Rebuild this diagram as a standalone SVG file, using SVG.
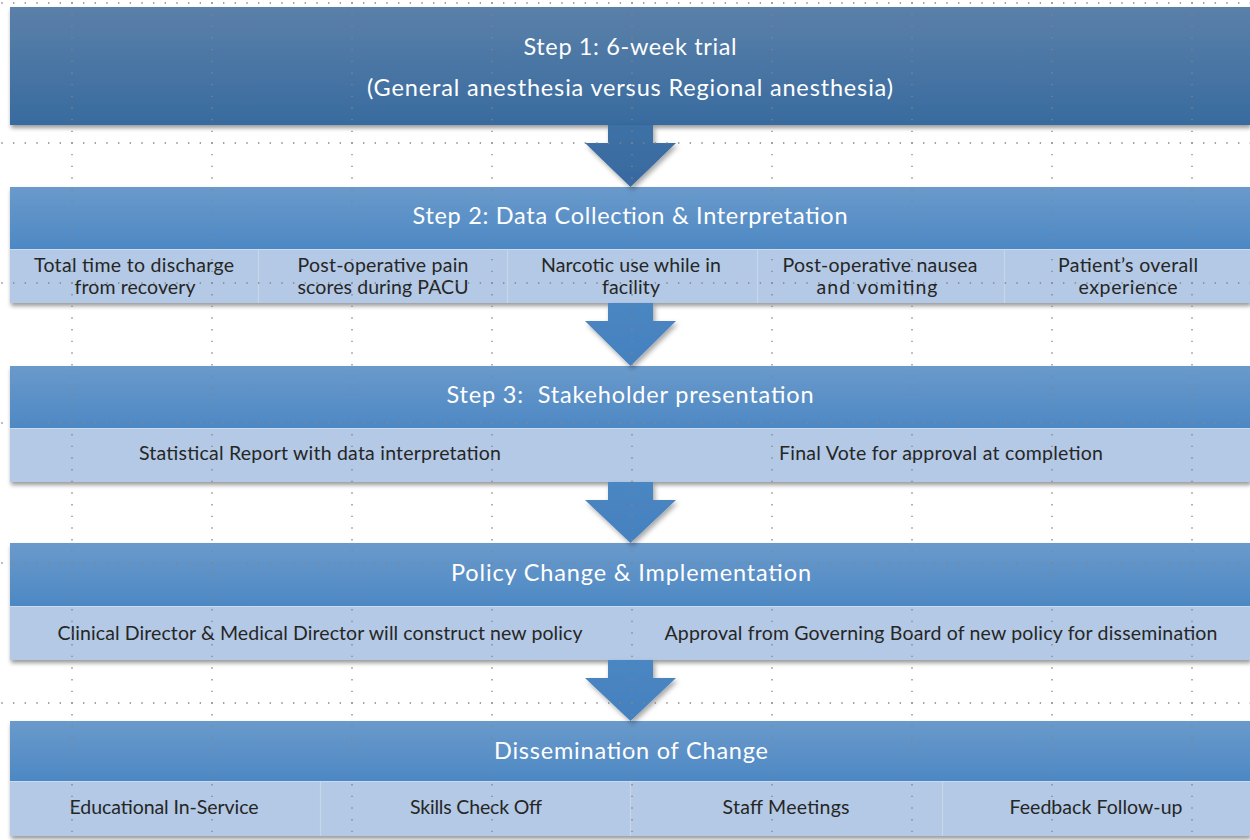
<svg xmlns="http://www.w3.org/2000/svg" width="1250" height="840" viewBox="0 0 1250 840">
  <style>
    .hd { font-family: Lato, "Open Sans", "Liberation Sans", sans-serif; font-size: 23.5px; fill: #ffffff; text-anchor: middle; }
    .sb { font-family: Lato, "Open Sans", "Liberation Sans", sans-serif; font-size: 19.5px; fill: #262626; text-anchor: middle; }
    .row { fill: #b3c9e5; }
    .sep { stroke: #c6d7ec; stroke-width: 1.2; }
    .edge { stroke: #c9dbef; stroke-width: 1; }
    .grid line { stroke: #858585; stroke-width: 1.3; stroke-dasharray: 1.4 10.267; }
  </style>
  <defs>
    <linearGradient id="gDark" x1="0" y1="0" x2="0" y2="1">
      <stop offset="0" stop-color="#5b80a9"/>
      <stop offset="1" stop-color="#386b9f"/>
    </linearGradient>
    <linearGradient id="gMid" x1="0" y1="0" x2="0" y2="1">
      <stop offset="0" stop-color="#6a9acb"/>
      <stop offset="1" stop-color="#4d88c4"/>
    </linearGradient>
    <linearGradient id="gArrowDark" x1="0" y1="0" x2="0" y2="1">
      <stop offset="0" stop-color="#3e70a5"/>
      <stop offset="1" stop-color="#386aa0"/>
    </linearGradient>
    <linearGradient id="gArrow" x1="0" y1="0" x2="0" y2="1">
      <stop offset="0" stop-color="#4a86c2"/>
      <stop offset="1" stop-color="#4581bf"/>
    </linearGradient>
    <filter id="shadow" x="-5%" y="-20%" width="110%" height="150%">
      <feDropShadow dx="1" dy="3" stdDeviation="2" flood-color="#000" flood-opacity="0.4"/>
    </filter>
    <filter id="ashadow" x="-30%" y="-30%" width="160%" height="160%">
      <feDropShadow dx="2" dy="3" stdDeviation="2.5" flood-color="#000" flood-opacity="0.35"/>
    </filter>
  </defs>

  <rect width="1250" height="840" fill="#ffffff"/>

  <!-- Step 1 -->
  <g id="step1">
    <rect x="10" y="7" width="1240" height="118" fill="url(#gDark)" filter="url(#shadow)"/>
    <text class="hd" x="630" y="55" textLength="213">Step 1: 6-week trial</text>
    <text class="hd" x="630" y="96" textLength="526">(General anesthesia versus Regional anesthesia)</text>
  </g>

  <!-- Step 2 -->
  <g id="step2">
    <g filter="url(#shadow)">
      <rect x="10" y="187" width="1240" height="62" fill="url(#gMid)"/>
      <rect class="row" x="10" y="249" width="1240" height="54"/>
    </g>
    <line class="edge" x1="10" y1="249.5" x2="1250" y2="249.5"/>
    <line class="sep" x1="258.5" y1="250" x2="258.5" y2="303"/>
    <line class="sep" x1="507.5" y1="250" x2="507.5" y2="303"/>
    <line class="sep" x1="757.5" y1="250" x2="757.5" y2="303"/>
    <line class="sep" x1="1004.5" y1="250" x2="1004.5" y2="303"/>
    <text class="hd" x="630" y="224" textLength="435">Step 2: Data Collection &amp; Interpretation</text>
    <text class="sb" x="134" y="272" textLength="200">Total time to discharge</text>
    <text class="sb" x="135" y="294" textLength="121">from recovery</text>
    <text class="sb" x="383" y="272" textLength="171">Post-operative pain</text>
    <text class="sb" x="383" y="294" textLength="171">scores during PACU</text>
    <text class="sb" x="631" y="272" textLength="180">Narcotic use while in</text>
    <text class="sb" x="631" y="294" textLength="58">facility</text>
    <text class="sb" x="880" y="272" textLength="195">Post-operative nausea</text>
    <text class="sb" x="877" y="294" textLength="121">and vomiting</text>
    <text class="sb" x="1128" y="272" textLength="140">Patient’s overall</text>
    <text class="sb" x="1128" y="294" textLength="99">experience</text>
  </g>

  <!-- Step 3 -->
  <g id="step3">
    <g filter="url(#shadow)">
      <rect x="10" y="366" width="1240" height="62" fill="url(#gMid)"/>
      <rect class="row" x="10" y="428" width="1240" height="54"/>
    </g>
    <line class="edge" x1="10" y1="428.5" x2="1250" y2="428.5"/>
    <text class="hd" x="630" y="403" textLength="367">Step 3:&#160; Stakeholder presentation</text>
    <text class="sb" x="320" y="460" textLength="362">Statistical Report with data interpretation</text>
    <text class="sb" x="941" y="460" textLength="324">Final Vote for approval at completion</text>
  </g>

  <!-- Policy change -->
  <g id="policy">
    <g filter="url(#shadow)">
      <rect x="10" y="543" width="1240" height="63" fill="url(#gMid)"/>
      <rect class="row" x="10" y="606" width="1240" height="54"/>
    </g>
    <line class="edge" x1="10" y1="606.5" x2="1250" y2="606.5"/>
    <text class="hd" x="631" y="581" textLength="360">Policy Change &amp; Implementation</text>
    <text class="sb" x="320" y="640" textLength="525">Clinical Director &amp; Medical Director will construct new policy</text>
    <text class="sb" x="941" y="640" textLength="553">Approval from Governing Board of new policy for dissemination</text>
  </g>

  <!-- Dissemination -->
  <g id="dissemination">
    <g filter="url(#shadow)">
      <rect x="10" y="721" width="1240" height="60" fill="url(#gMid)"/>
      <rect class="row" x="10" y="781" width="1240" height="55"/>
    </g>
    <line class="edge" x1="10" y1="781.5" x2="1250" y2="781.5"/>
    <line class="sep" x1="320.5" y1="782" x2="320.5" y2="836"/>
    <line class="sep" x1="630.5" y1="782" x2="630.5" y2="836"/>
    <line class="sep" x1="942.5" y1="782" x2="942.5" y2="836"/>
    <text class="hd" x="631" y="759" textLength="274">Dissemination of Change</text>
    <text class="sb" x="164" y="814" textLength="189">Educational In-Service</text>
    <text class="sb" x="476" y="814" textLength="132">Skills Check Off</text>
    <text class="sb" x="786" y="814" textLength="127">Staff Meetings</text>
    <text class="sb" x="1096" y="814" textLength="173">Feedback Follow-up</text>
  </g>

  <!-- Connectors: block arrows between stages -->
  <g id="connectors">
    <path d="M608 125 H653 V143 H676 L630.5 187 L585 143 H608 Z" fill="url(#gArrowDark)" filter="url(#ashadow)"/>
    <path d="M608 303 H653 V321 H676 L630.5 366 L585 321 H608 Z" fill="url(#gArrow)" filter="url(#ashadow)"/>
    <path d="M608 482 H653 V500 H676 L630.5 543 L585 500 H608 Z" fill="url(#gArrow)" filter="url(#ashadow)"/>
    <path d="M608 660 H653 V678 H676 L630.5 721 L585 678 H608 Z" fill="url(#gArrow)" filter="url(#ashadow)"/>
  </g>

  <!-- Layout grid (dotted guides) -->
  <g class="grid">
    <line x1="72" y1="-9.367" x2="72" y2="845"/>
    <line x1="212" y1="-9.367" x2="212" y2="845"/>
    <line x1="352" y1="-9.367" x2="352" y2="845"/>
    <line x1="492" y1="-9.367" x2="492" y2="845"/>
    <line x1="632" y1="-9.367" x2="632" y2="845"/>
    <line x1="772" y1="-9.367" x2="772" y2="845"/>
    <line x1="912" y1="-9.367" x2="912" y2="845"/>
    <line x1="1052" y1="-9.367" x2="1052" y2="845"/>
    <line x1="1192" y1="-9.367" x2="1192" y2="845"/>
    <line x1="-10.367" y1="3" x2="1255" y2="3"/>
    <line x1="-10.367" y1="143" x2="1255" y2="143"/>
    <line x1="-10.367" y1="283" x2="1255" y2="283"/>
    <line x1="-10.367" y1="423" x2="1255" y2="423"/>
    <line x1="-10.367" y1="563" x2="1255" y2="563"/>
    <line x1="-10.367" y1="703" x2="1255" y2="703"/>
  </g>
</svg>
